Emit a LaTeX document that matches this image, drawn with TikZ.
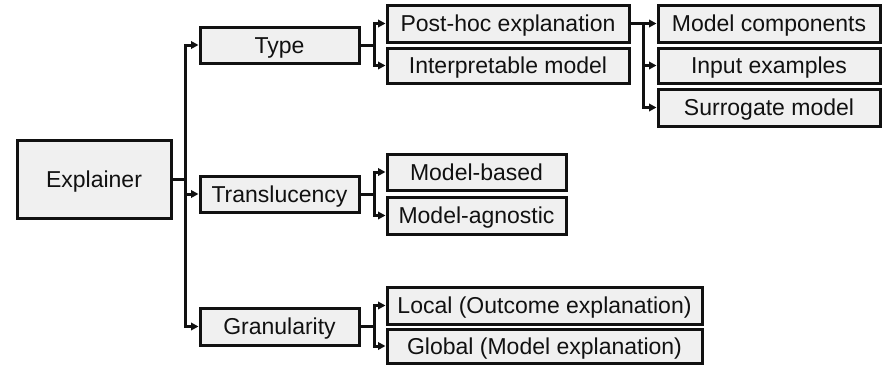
\documentclass[tikz,border=0pt]{standalone}
\usepackage{fontspec}
\setmainfont{Liberation Sans}
\usetikzlibrary{arrows.meta}
\definecolor{boxfill}{HTML}{F0F0F0}
\definecolor{ink}{HTML}{111111}
\tikzset{
  box/.style={draw=ink, fill=boxfill, line width=3pt, rectangle, inner sep=0pt,
    text=ink, font=\fontsize{23}{27}\selectfont, anchor=center,
    text height=16.5pt, text depth=0pt},
  link/.style={draw=ink, line width=3pt},
  arr/.style={link, -{Triangle[length=7.5pt,width=7.5pt]}}
}
\begin{document}
\begin{tikzpicture}[x=1pt, y=-1pt]
\useasboundingbox (0,0) rectangle (883,364);

% root
\node[box, minimum width=154pt, minimum height=78pt] (ex) at (94,179) {Explainer};

% first level
\node[box, minimum width=159pt, minimum height=36pt] (type)  at (279.5,45)   {Type};
\node[box, minimum width=159pt, minimum height=36pt] (trans) at (279.5,194)  {Translucency};
\node[box, minimum width=159pt, minimum height=37pt] (gran)  at (279.5,326.5) {Granularity};

% type branch
\node[box, minimum width=242pt, minimum height=37pt] (post)   at (508,23.5) {Post-hoc explanation};
\node[box, minimum width=242pt, minimum height=35pt] (interp) at (508,65.5) {Interpretable model};

% post-hoc branch
\node[box, minimum width=222pt, minimum height=37pt] (comp) at (769,23.5)  {Model components};
\node[box, minimum width=222pt, minimum height=35pt] (inp)  at (769,65.5)  {Input examples};
\node[box, minimum width=222pt, minimum height=37pt] (surr) at (769,107.5) {Surrogate model};

% translucency branch
\node[box, minimum width=179pt, minimum height=36pt] (mb) at (476.5,172)   {Model-based};
\node[box, minimum width=179pt, minimum height=37pt] (ma) at (476.5,215.5) {Model-agnostic};

% granularity branch
\node[box, minimum width=315pt, minimum height=37pt] (loc) at (544.5,305.5) {Local (Outcome explanation)};
\node[box, minimum width=315pt, minimum height=34pt] (glo) at (544.5,346)   {Global (Model explanation)};

% connectors
\draw[link] (ex.east) -- ++(13,0) coordinate (j0);
\draw[arr] (j0) |- (type.west);
\draw[arr] (j0) |- (trans.west);
\draw[arr] (j0) |- (gran.west);

\draw[link] (type.east) -- ++(14,0) coordinate (j1);
\draw[arr] (j1) |- (post.west);
\draw[arr] (j1) |- (interp.west);

\draw[link] (post.east) -- ++(13,0) coordinate (j2);
\draw[arr] (j2) -- (comp.west);
\draw[arr] (j2) |- (inp.west);
\draw[arr] (j2) |- (surr.west);

\draw[link] (trans.east) -- ++(14,0) coordinate (j3);
\draw[arr] (j3) |- (mb.west);
\draw[arr] (j3) |- (ma.west);

\draw[link] (gran.east) -- ++(14,0) coordinate (j4);
\draw[arr] (j4) |- (loc.west);
\draw[arr] (j4) |- (glo.west);
\end{tikzpicture}
\end{document}
